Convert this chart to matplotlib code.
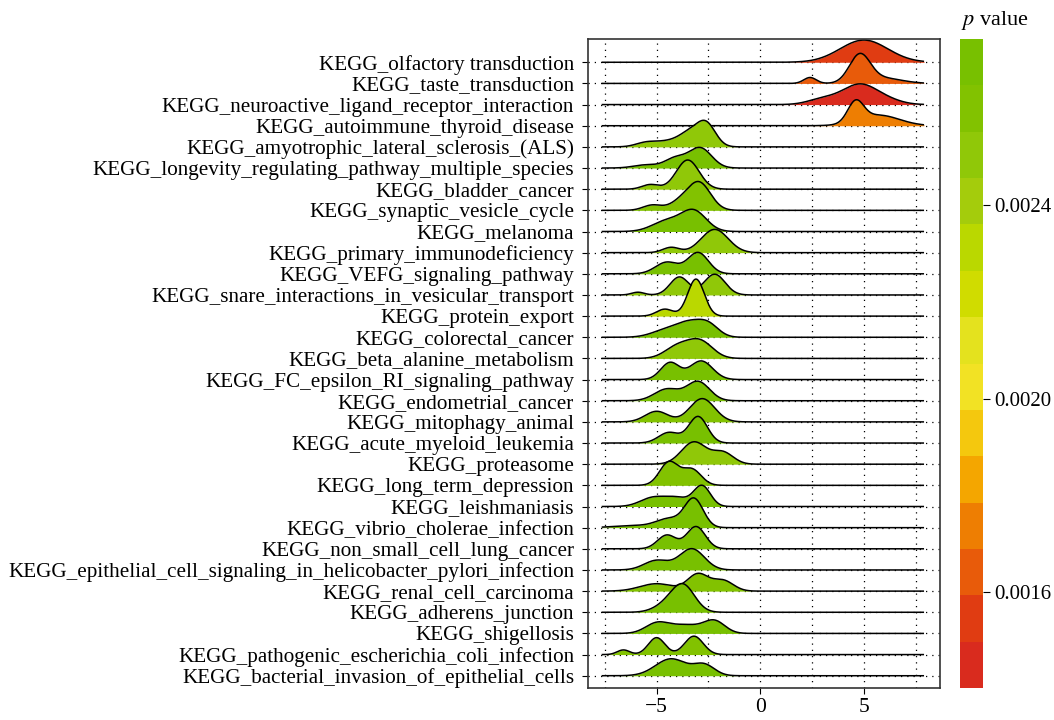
import numpy as np
import matplotlib
matplotlib.use("Agg")
import matplotlib.pyplot as plt
from matplotlib.colors import ListedColormap, BoundaryNorm
from matplotlib.cm import ScalarMappable

plt.rcParams["font.family"] = ["Liberation Serif", "DejaVu Serif"]
plt.rcParams["mathtext.fontset"] = "stix"

# pathways, top to bottom
pathways = [
    "KEGG_olfactory transduction",
    "KEGG_taste_transduction",
    "KEGG_neuroactive_ligand_receptor_interaction",
    "KEGG_autoimmune_thyroid_disease",
    "KEGG_amyotrophic_lateral_sclerosis_(ALS)",
    "KEGG_longevity_regulating_pathway_multiple_species",
    "KEGG_bladder_cancer",
    "KEGG_synaptic_vesicle_cycle",
    "KEGG_melanoma",
    "KEGG_primary_immunodeficiency",
    "KEGG_VEFG_signaling_pathway",
    "KEGG_snare_interactions_in_vesicular_transport",
    "KEGG_protein_export",
    "KEGG_colorectal_cancer",
    "KEGG_beta_alanine_metabolism",
    "KEGG_FC_epsilon_RI_signaling_pathway",
    "KEGG_endometrial_cancer",
    "KEGG_mitophagy_animal",
    "KEGG_acute_myeloid_leukemia",
    "KEGG_proteasome",
    "KEGG_long_term_depression",
    "KEGG_leishmaniasis",
    "KEGG_vibrio_cholerae_infection",
    "KEGG_non_small_cell_lung_cancer",
    "KEGG_epithelial_cell_signaling_in_helicobacter_pylori_infection",
    "KEGG_renal_cell_carcinoma",
    "KEGG_adherens_junction",
    "KEGG_shigellosis",
    "KEGG_pathogenic_escherichia_coli_infection",
    "KEGG_bacterial_invasion_of_epithelial_cells",
]

# p values (fill colour of each ridge)
p_values = [
    0.00155, 0.00165, 0.00145, 0.00175,
    0.00250, 0.00265, 0.00255, 0.00260, 0.00270, 0.00250,
    0.00268, 0.00250, 0.00235, 0.00270, 0.00250, 0.00270,
    0.00270, 0.00260, 0.00270, 0.00250, 0.00260, 0.00270,
    0.00270, 0.00270, 0.00270, 0.00260, 0.00270, 0.00270,
    0.00260, 0.00270,
]

# density shape of each ridge:
# bumps as (centre, width, height in rows)
ridge_bumps = [
    [(5.0, 1.15, 1.05)],
    [(2.4, 0.3, 0.28), (4.8, 0.5, 1.3), (5.9, 0.9, 0.25)],
    [(3.0, 0.7, 0.25), (4.8, 0.85, 0.95), (6.2, 0.7, 0.15)],
    [(4.6, 0.38, 0.95), (5.7, 1.0, 0.5)],
    [(-5.5, 0.5, 0.2), (-4.4, 0.6, 0.25), (-3.4, 0.5, 0.6), (-2.6, 0.45, 1.05)],
    [(-5.5, 0.6, 0.15), (-4.1, 0.5, 0.45), (-2.9, 0.55, 0.95)],
    [(-5.3, 0.4, 0.22), (-3.5, 0.55, 1.38)],
    [(-5.2, 0.45, 0.25), (-3.9, 0.5, 0.35), (-2.95, 0.55, 1.3)],
    [(-4.5, 0.7, 0.5), (-3.2, 0.6, 0.95)],
    [(-4.3, 0.4, 0.25), (-2.2, 0.65, 1.1)],
    [(-4.5, 0.55, 0.55), (-3.0, 0.5, 1.0)],
    [(-5.9, 0.3, 0.13), (-3.9, 0.45, 0.85), (-2.2, 0.5, 0.98)],
    [(-4.6, 0.4, 0.33), (-3.1, 0.4, 1.75)],
    [(-4.5, 0.7, 0.35), (-3.4, 0.6, 0.6), (-2.5, 0.5, 0.55)],
    [(-4.0, 0.6, 0.55), (-2.9, 0.6, 0.8)],
    [(-4.35, 0.45, 0.8), (-2.85, 0.55, 0.88)],
    [(-4.5, 0.6, 0.55), (-3.0, 0.55, 0.9)],
    [(-5.0, 0.55, 0.5), (-2.8, 0.6, 1.1)],
    [(-4.4, 0.5, 0.5), (-3.0, 0.45, 1.25)],
    [(-3.2, 0.6, 1.05), (-1.8, 0.5, 0.55)],
    [(-4.4, 0.45, 1.1), (-3.3, 0.45, 0.75)],
    [(-5.2, 0.6, 0.4), (-4.0, 0.6, 0.4), (-2.8, 0.4, 0.95)],
    [(-6.0, 1.0, 0.1), (-4.4, 0.6, 0.4), (-3.2, 0.45, 1.35)],
    [(-4.5, 0.45, 0.65), (-3.1, 0.45, 1.05)],
    [(-5.0, 0.6, 0.45), (-3.3, 0.6, 1.0)],
    [(-5.0, 0.8, 0.35), (-3.0, 0.5, 0.8), (-1.8, 0.5, 0.5)],
    [(-4.5, 0.6, 0.35), (-3.7, 0.55, 1.2)],
    [(-5.0, 0.55, 0.45), (-3.6, 0.8, 0.4), (-2.2, 0.5, 0.55)],
    [(-6.6, 0.3, 0.22), (-5.0, 0.4, 0.8), (-3.2, 0.45, 0.87)],
    [(-4.3, 0.75, 0.8), (-2.7, 0.5, 0.5)],
]

# colour bar bands, low to high p
band_colors = [
    "#d92b1e", "#e03c12", "#e85b0a", "#ee7e02", "#f4a600", "#f4c80e", "#f2e224",
    "#e4e21e", "#d0dc00", "#bad800", "#a4cc0c", "#90c808", "#82c200", "#78c000",
]
p_min, p_max = 0.0014013, 0.0027436
cbar_ticks = [0.0016, 0.0020, 0.0024]

x_range = (-7.65, 7.9)

cmap = ListedColormap(band_colors)
norm = BoundaryNorm(np.linspace(p_min, p_max, len(band_colors) + 1), cmap.N)

fig = plt.figure(figsize=(10.54, 7.2), dpi=100)
ax = fig.add_axes([588 / 1054, 32 / 720, 352 / 1054, 649 / 720])

n = len(pathways)
xs = np.linspace(x_range[0], x_range[1], 600)
for i, (name, bumps, p) in enumerate(zip(pathways, ridge_bumps, p_values)):
    base = n - 1 - i
    dens = np.zeros_like(xs)
    for c, w, h in bumps:
        dens += h * np.exp(-0.5 * ((xs - c) / w) ** 2)
    ax.fill_between(xs, base, base + dens, color=cmap(norm(p)), lw=0, zorder=2 + i)
    ax.plot(xs, base + dens, color="black", lw=1.1, zorder=2 + i + 0.5,
            solid_capstyle="butt")

ax.set_xlim(-8.31, 8.67)
ax.set_ylim(-0.58, n - 1 + 1.10)
ax.set_yticks(np.arange(n))
ax.set_yticklabels(pathways[::-1], fontsize=15.2)
ax.set_xticks([-5, 0, 5])
ax.set_xticklabels(["\u22125", "0", "5"], fontsize=15.5)
ax.tick_params(axis="x", length=4, width=0.8, color="black", pad=3)
ax.tick_params(axis="y", length=4, width=0.8, color="black", pad=6)

for gx in [-7.5, -5, -2.5, 0, 2.5, 5, 7.5]:
    ax.axvline(gx, color="black", lw=0.9, ls=(0, (1, 4)), zorder=1)
for gy in range(n):
    ax.axhline(gy, color="black", lw=0.9, ls=(0, (1, 4)), zorder=1)

for sp in ax.spines.values():
    sp.set_linewidth(1.2)
    sp.set_color("#333333")

# colour bar
cax = fig.add_axes([960 / 1054, 32 / 720, 23 / 1054, 649 / 720])
cb = fig.colorbar(ScalarMappable(norm=norm, cmap=cmap), cax=cax)
cb.outline.set_visible(False)
cb.set_ticks(cbar_ticks)
cb.set_ticklabels(["0.0016", "0.0020", "0.0024"])
cb.minorticks_off()
cax.tick_params(length=5, width=0.8, labelsize=15, pad=3)
fig.text(961 / 1054, 1 - 20 / 720, r"$p$ value", fontsize=16, va="center", ha="left")

fig.savefig("out.png", dpi=100)
